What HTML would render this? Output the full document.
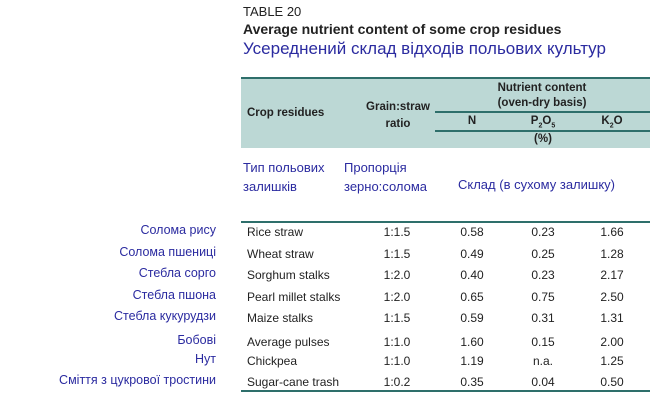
<!DOCTYPE html>
<html><head><meta charset="utf-8"><style>
body{margin:0;width:655px;height:406px;background:#fff;position:relative;overflow:hidden;font-family:"Liberation Sans","DejaVu Sans",sans-serif;}
.a{position:absolute;white-space:nowrap;}
.k{color:#222;font-size:12px;}
.b{color:#2b2ba0;}
.h{font-weight:bold;font-size:11.5px;color:#222;}
.ln{position:absolute;background:#2e6f6b;}
.c{transform:translateX(-50%);}
.r{transform:translateX(-100%);}
</style></head><body>
<div class="a" style="left:243px;top:4px;font-size:13px;color:#222">TABLE 20</div>
<div class="a" style="left:243px;top:21px;font-size:14px;font-weight:bold;color:#222">Average nutrient content of some crop residues</div>
<div class="a b" style="left:243px;top:39px;font-size:17px">Усереднений склад відходів польових культур</div>

<div class="a" style="left:241px;top:78px;width:409px;height:70px;background:#bcd8d5"></div>
<div class="ln" style="left:241px;top:77px;width:409px;height:2px"></div>
<div class="ln" style="left:435px;top:111px;width:215px;height:1.5px"></div>
<div class="ln" style="left:435px;top:130px;width:215px;height:1.5px"></div>
<div class="a h" style="left:247px;top:107px">Crop residues</div>
<div class="a h c" style="left:398px;top:99px;text-align:center;line-height:17px">Grain:straw<br>ratio</div>
<div class="a h c" style="left:542px;top:81px;text-align:center;line-height:15px">Nutrient content<br>(oven-dry basis)</div>
<div class="a h c" style="left:472px;top:115px">N</div>
<div class="a h c" style="left:543px;top:115px">P<sub style="font-size:7px">2</sub>O<sub style="font-size:7px">5</sub></div>
<div class="a h c" style="left:612px;top:115px">K<sub style="font-size:7px">2</sub>O</div>
<div class="a h c" style="left:543px;top:133px">(%)</div>

<div class="a b" style="left:243px;top:158px;font-size:13px;line-height:19px">Тип польових<br>залишків</div>
<div class="a b" style="left:344px;top:158px;font-size:13px;line-height:19px">Пропорція<br>зерно:солома</div>
<div class="a b" style="left:458px;top:177px;font-size:13px">Склад (в сухому залишку)</div>

<div class="ln" style="left:241px;top:221px;width:409px;height:1.5px"></div>
<div class="ln" style="left:241px;top:390px;width:409px;height:1.5px"></div>
<script>
const uaLabels=["Солома рису","Солома пшениці","Стебла сорго","Стебла пшона","Стебла кукурудзи","Бобові","Нут","Сміття з цукрової тростини"];
const crops=["Rice straw","Wheat straw","Sorghum stalks","Pearl millet stalks","Maize stalks","Average pulses","Chickpea","Sugar-cane trash"];
const ratios=["1:1.5","1:1.5","1:2.0","1:2.0","1:1.5","1:1.0","1:1.0","1:0.2"];
const nVals=["0.58","0.49","0.40","0.65","0.59","1.60","1.19","0.35"];
const pVals=["0.23","0.25","0.23","0.75","0.31","0.15","n.a.","0.04"];
const kVals=["1.66","1.28","2.17","2.50","1.31","2.00","1.25","0.50"];
const rowY=[232,254,275,297,318,342,361,382];
const root=document.body;
function add(txt,cls,x,y,name,fs){
  const d=document.createElement('div');
  d.className='a '+cls;
  d.textContent=txt;
  d.style.left=x+'px';d.style.top=(y-7)+'px';
  if(fs)d.style.fontSize=fs+'px';
  
  
  root.appendChild(d);
}
crops.forEach((c,i)=>{
  const y=rowY[i];
  add(uaLabels[i],'b r',216,y-2,'ua-row-label',12.5);
  add(c,'k',247,y,'crop-name');
  add(ratios[i],'k c',397,y,'ratio-value');
  add(nVals[i],'k c',472,y,'n-value');
  add(pVals[i],'k c',543,y,'p2o5-value');
  add(kVals[i],'k c',612,y,'k2o-value');
});
</script>
</body></html>
